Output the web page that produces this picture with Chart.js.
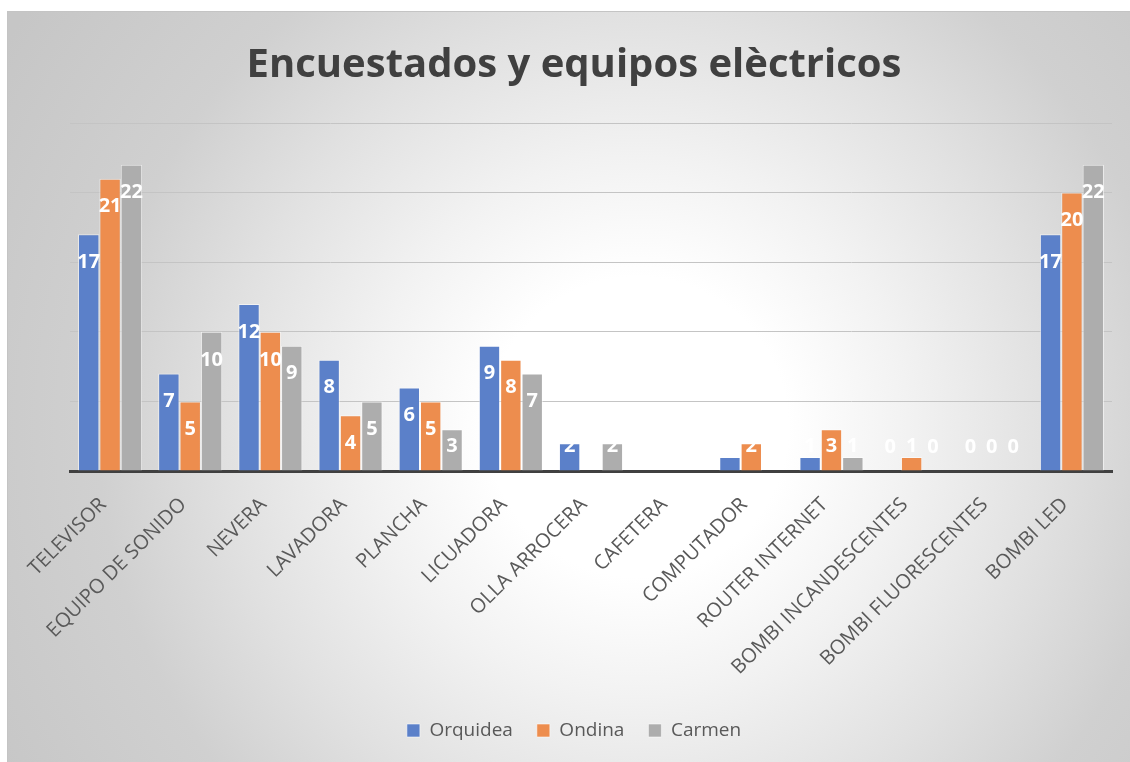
<!DOCTYPE html>
<html>
<head>
<meta charset="utf-8">
<script src="https://cdn.jsdelivr.net/npm/chart.js@4.4.1/dist/chart.umd.min.js"></script>
<style>
  html, body { margin: 0; padding: 0; background: #ffffff; }
  #frame {
    position: absolute; left: 7px; top: 11px; width: 1123px; height: 751px;
    background: radial-gradient(circle at 630px 415px, #ffffff 0px, #ffffff 150px, #f2f2f2 270px, #e1e1e1 410px, #d0d0d0 540px, #c6c6c6 740px);
    border-top: 1px solid #c4c4c4; border-left: 1px solid #c4c4c4;
  }
  #wrap { position: absolute; left: 0; top: 0; width: 1130px; height: 762px; }
</style>
</head>
<body>
<div id="frame"></div>
<div id="wrap"><canvas id="myChart" width="1130" height="762"></canvas></div>
<script>
// Categories and values
const categories = ['TELEVISOR', 'EQUIPO DE SONIDO', 'NEVERA', 'LAVADORA', 'PLANCHA', 'LICUADORA',
    'OLLA ARROCERA', 'CAFETERA', 'COMPUTADOR', 'ROUTER INTERNET', 'BOMBI INCANDESCENTES',
    'BOMBI FLUORESCENTES', 'BOMBI LED'];
const orquidea = [17, 7, 12, 8, 6, 9, 2, 0, 1, 1, 0, 0, 17];
const ondina   = [21, 5, 10, 4, 5, 8, 0, 0, 2, 3, 1, 0, 20];
const carmen   = [22, 10, 9, 5, 3, 7, 2, 0, 0, 1, 0, 0, 22];

Chart.defaults.font.family = "'Open Sans', sans-serif";

// Draw the value labels near the top of each bar (white, bold)
const barLabels = {
    id: 'barLabels',
    afterDatasetsDraw(chart) {
        const ctx = chart.ctx;
        ctx.save();
        ctx.fillStyle = '#ffffff';
        ctx.font = 'bold 20px "Open Sans", sans-serif';
        ctx.textAlign = 'center';
        ctx.textBaseline = 'middle';
        chart.data.datasets.forEach(function(ds, i) {
            const meta = chart.getDatasetMeta(i);
            meta.data.forEach(function(bar, j) {
                const y = Math.min(bar.y + 28, bar.base - 24);
                ctx.fillText(String(ds.data[j]), bar.x, y);
            });
        });
        ctx.restore();
    }
};

const ctx = document.getElementById('myChart').getContext('2d');
const myChart = new Chart(ctx, {
    type: 'bar',
    data: {
        labels: categories,
        datasets: [{
            label: 'Orquidea',
            backgroundColor: 'rgb(91,128,201)',
            borderColor: 'rgba(255,255,255,0.55)',
            borderWidth: 1,
            data: orquidea
        },
        {
            label: 'Ondina',
            backgroundColor: 'rgb(237,141,78)',
            borderColor: 'rgba(255,255,255,0.55)',
            borderWidth: 1,
            data: ondina
        },
        {
            label: 'Carmen',
            backgroundColor: 'rgb(173,173,173)',
            borderColor: 'rgba(255,255,255,0.55)',
            borderWidth: 1,
            data: carmen
        }]
    },
    options: {
        responsive: false,
        animation: false,
        layout: {
            padding: { left: 36, right: 18, top: 0, bottom: 12 }
        },
        datasets: {
            bar: { categoryPercentage: 0.8, barPercentage: 1.0 }
        },
        plugins: {
            tooltip: { enabled: false },
            title: {
                display: true,
                text: 'Encuestados y equipos elèctricos',
                color: '#404040',
                font: { size: 40, weight: 'bold' },
                padding: { top: 42, bottom: 33 }
            },
            legend: {
                position: 'bottom',
                labels: {
                    color: '#595959',
                    font: { size: 19 },
                    boxWidth: 13,
                    boxHeight: 13,
                    padding: 24
                }
            }
        },
        scales: {
            x: {
                grid: { display: false },
                border: { color: '#404040', width: 3 },
                ticks: {
                    color: '#595959',
                    font: { size: 20 },
                    minRotation: 45,
                    maxRotation: 45,
                    autoSkip: false,
                    padding: 14,
                    labelOffset: -7
                },
                afterFit: function(scale) {
                    scale.height = 226;
                }
            },
            y: {
                min: 0,
                max: 25,
                ticks: { display: false, stepSize: 5 },
                grid: { color: '#c4c4c4', lineWidth: 1, drawTicks: false },
                border: { display: false },
                afterFit: function(scale) {
                    scale.width = 34;
                }
            }
        }
    },
    plugins: [barLabels]
});
</script>
</body>
</html>
